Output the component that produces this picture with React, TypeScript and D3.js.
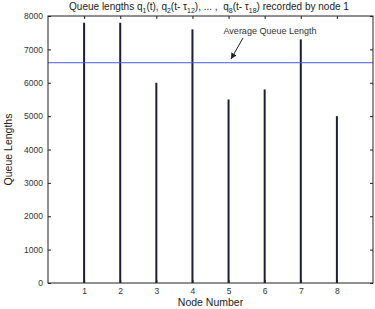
import * as d3 from 'd3';
import React, { useEffect, useRef } from 'react';

const nodes = [1, 2, 3, 4, 5, 6, 7, 8];
const queueLengths = [7800, 7800, 6000, 7600, 5500, 5800, 7300, 5000];
const averageQueue = 6600;
const yTicks = [0, 1000, 2000, 3000, 4000, 5000, 6000, 7000, 8000];

function App() {
  const ref = useRef<SVGSVGElement>(null);

  useEffect(() => {
    const width = 375;
    const height = 309;
    const margin = { top: 16, right: 2, bottom: 26, left: 48 };
    const innerWidth = width - margin.left - margin.right;
    const innerHeight = height - margin.top - margin.bottom;
    const font = 'Liberation Sans, Arial, sans-serif';

    const svg = d3.select(ref.current);
    svg.selectAll('*').remove();

    const x = d3.scaleLinear().domain([0, 9]).range([0, innerWidth]);
    const y = d3.scaleLinear().domain([0, 8000]).range([innerHeight, 0]);

    const g = svg.append('g').attr('transform', `translate(${margin.left},${margin.top})`);

    // stems
    g.selectAll('line.stem')
      .data(nodes)
      .enter()
      .append('line')
      .attr('class', 'stem')
      .attr('x1', d => x(d))
      .attr('x2', d => x(d))
      .attr('y1', y(0))
      .attr('y2', (d, i) => y(queueLengths[i]))
      .attr('stroke', '#1c1c3c')
      .attr('stroke-width', 2);

    // average line
    g.append('line')
      .attr('x1', 0)
      .attr('x2', innerWidth)
      .attr('y1', y(averageQueue))
      .attr('y2', y(averageQueue))
      .attr('stroke', '#4a5ae0')
      .attr('stroke-width', 1);

    // axes (MATLAB box with inward ticks)
    const axisStyle = (sel: any) => {
      sel.select('.domain').remove();
      sel.selectAll('text').attr('font-family', font).attr('font-size', 8.5).attr('fill', '#333');
      sel.selectAll('line').attr('stroke', '#222');
    };

    g.append('g')
      .attr('transform', `translate(0,${innerHeight})`)
      .call(d3.axisBottom(x).tickValues(nodes).tickSize(-3).tickPadding(5).tickFormat(d3.format('d')))
      .call(axisStyle);
    g.append('g')
      .call(d3.axisTop(x).tickValues(nodes).tickSize(-3).tickFormat(() => ''))
      .call(axisStyle);
    g.append('g')
      .call(d3.axisLeft(y).tickValues(yTicks).tickSize(-3).tickPadding(5).tickFormat(d3.format('d')))
      .call(axisStyle);
    g.append('g')
      .attr('transform', `translate(${innerWidth},0)`)
      .call(d3.axisRight(y).tickValues(yTicks).tickSize(-3).tickFormat(() => ''))
      .call(axisStyle);

    g.append('rect')
      .attr('width', innerWidth)
      .attr('height', innerHeight)
      .attr('fill', 'none')
      .attr('stroke', '#222')
      .attr('stroke-width', 1);

    // annotation
    svg.append('defs').append('marker')
      .attr('id', 'arrow')
      .attr('viewBox', '0 0 10 10')
      .attr('refX', 10)
      .attr('refY', 5)
      .attr('markerWidth', 6)
      .attr('markerHeight', 6)
      .attr('orient', 'auto')
      .append('path')
      .attr('d', 'M0,0 L10,5 L0,10 z')
      .attr('fill', '#222');

    svg.append('text')
      .attr('x', 270)
      .attr('y', 34)
      .attr('text-anchor', 'middle')
      .attr('font-family', font)
      .attr('font-size', 9)
      .attr('fill', '#333')
      .text('Average Queue Length');

    svg.append('line')
      .attr('x1', 243)
      .attr('y1', 38)
      .attr('x2', 231)
      .attr('y2', 59)
      .attr('stroke', '#222')
      .attr('stroke-width', 1)
      .attr('marker-end', 'url(#arrow)');

    // axis labels
    svg.append('text')
      .attr('x', margin.left + innerWidth / 2)
      .attr('y', 306)
      .attr('text-anchor', 'middle')
      .attr('font-family', font)
      .attr('font-size', 10.5)
      .attr('fill', '#222')
      .text('Node Number');

    svg.append('text')
      .attr('transform', `translate(12,${margin.top + innerHeight / 2}) rotate(-90)`)
      .attr('text-anchor', 'middle')
      .attr('font-family', font)
      .attr('font-size', 10.5)
      .attr('fill', '#222')
      .text('Queue Lengths');

    // title with subscripts
    const title = svg.append('text')
      .attr('x', 209)
      .attr('y', 10)
      .attr('text-anchor', 'middle')
      .attr('font-family', font)
      .attr('font-size', 10)
      .attr('fill', '#222');
    const parts: [string, boolean][] = [
      ['Queue lengths q', false], ['1', true], ['(t), q', false], ['2', true],
      ['(t- τ', false], ['12', true], ['), ... ,  q', false], ['8', true],
      ['(t- τ', false], ['18', true], [') recorded by node 1', false],
    ];
    let prevSub = false;
    parts.forEach(([t, sub]) => {
      title.append('tspan')
        .attr('dy', sub ? 3 : (prevSub ? -3 : 0))
        .attr('font-size', sub ? 7 : 10)
        .attr('xml:space', 'preserve')
        .text(t);
      prevSub = sub;
    });
  }, []);

  return <svg ref={ref} width={375} height={309} style={{ position: 'absolute', left: 0, top: 0 }} />;
}

export default App;
